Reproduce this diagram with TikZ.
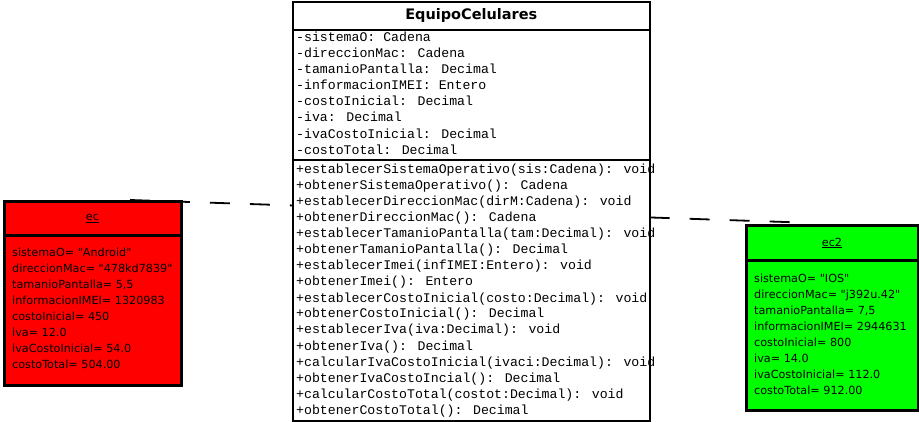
\documentclass[tikz,border=0pt]{standalone}
\usepackage{fontspec}
\newfontfamily\monofont{Liberation Mono}
\newfontfamily\objfont{DejaVu Sans}
\definecolor{rojo}{RGB}{255,0,0}
\definecolor{verde}{RGB}{0,255,0}
\tikzset{
	seccion/.style={draw, line width=1.6pt, fill=white, anchor=north west, inner sep=0pt},
	objeto/.style={draw, line width=3pt, anchor=north west, inner sep=0pt, font=\objfont\fontsize{11.2}{14}\selectfont},
	miembro/.style={anchor=base west, inner sep=0pt, font=\monofont\fontsize{13.2}{16}\selectfont},
	valor/.style={anchor=base west, inner sep=0pt, font=\objfont\fontsize{11.2}{14}\selectfont},
	enlace/.style={line width=1.8pt, dash pattern=on 20pt off 20pt},
}
\begin{document}
\begin{tikzpicture}[x=1pt,y=-1pt]
	\useasboundingbox (0,0) rectangle (919,422);
	% enlace entre los objetos
	\coordinate (ini) at (130,200);
	\coordinate (fin) at (800,222.5);
	\draw[enlace] (ini) -- (fin);
	% clase
	\node[seccion, minimum width=357pt, minimum height=28pt, font=\objfont\bfseries\fontsize{14.5}{17}\selectfont] (titulo) at (292,1) {EquipoCelulares};
	\node[seccion, minimum width=357pt, minimum height=130pt] (atributos) at (292,29) {};
	\node[seccion, minimum width=357pt, minimum height=261pt] (metodos) at (292,159) {};
	\foreach \t [count=\i from 0] in {-sistemaO: Cadena, -direccionMac: Cadena, -tamanioPantalla: Decimal, -informacionIMEI: Entero, -costoInicial: Decimal, -iva: Decimal, -ivaCostoInicial: Decimal, -costoTotal: Decimal}
		\node[miembro] (a\i) at (296,41.5+16.1*\i) {\t};
	\foreach \t [count=\i from 0] in {+establecerSistemaOperativo(sis:Cadena): void, +obtenerSistemaOperativo(): Cadena, +establecerDireccionMac(dirM:Cadena): void, +obtenerDireccionMac(): Cadena, +establecerTamanioPantalla(tam:Decimal): void, +obtenerTamanioPantalla(): Decimal, +establecerImei(infIMEI:Entero): void, +obtenerImei(): Entero, +establecerCostoInicial(costo:Decimal): void, +obtenerCostoInicial(): Decimal, +establecerIva(iva:Decimal): void, +obtenerIva(): Decimal, +calcularIvaCostoInicial(ivaci:Decimal): void, +obtenerIvaCostoIncial(): Decimal, +calcularCostoTotal(costot:Decimal): void, +obtenerCostoTotal(): Decimal}
		\node[miembro] (m\i) at (296,174+16*\i) {\t};
	% objeto ec
	\node[objeto, fill=rojo, minimum width=177pt, minimum height=34pt] (ectit) at (2.5,200) {\underline{ec}};
	\node[objeto, fill=rojo, minimum width=177pt, minimum height=150pt] (ecval) at (2.5,234) {};
	\foreach \t [count=\i from 0] in {sistemaO= "Android", direccionMac= "478kd7839", {tamanioPantalla= 5,5}, informacionIMEI= 1320983, costoInicial= 450, iva= 12.0, ivaCostoInicial= 54.0, costoTotal= 504.00}
		\node[valor] (e\i) at (12,257+15.9*\i) {\t};
	% objeto ec2
	\node[objeto, fill=verde, minimum width=172pt, minimum height=35pt] (ectit2) at (744.5,224) {\underline{ec2}};
	\node[objeto, fill=verde, minimum width=172pt, minimum height=150pt] (ecval2) at (744.5,259) {};
	\foreach \t [count=\i from 0] in {sistemaO= "IOS", direccionMac= "j392u.42", {tamanioPantalla= 7,5}, informacionIMEI= 2944631, costoInicial= 800, iva= 14.0, ivaCostoInicial= 112.0, costoTotal= 912.00}
		\node[valor] (f\i) at (754,283+15.9*\i) {\t};
\end{tikzpicture}
\end{document}
